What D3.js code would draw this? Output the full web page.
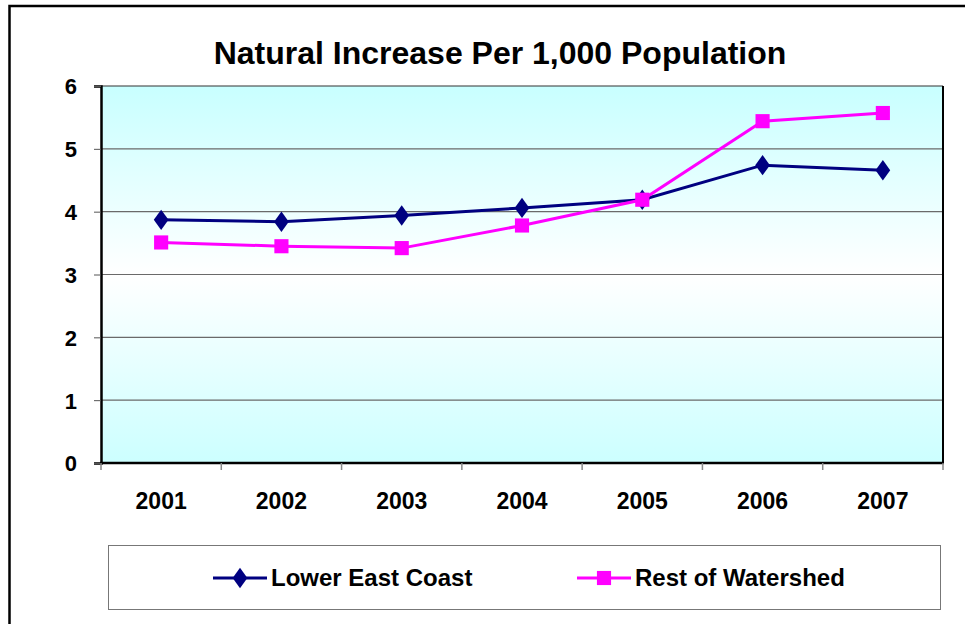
<!DOCTYPE html>
<html>
<head>
<meta charset="utf-8">
<script src="https://cdn.jsdelivr.net/npm/d3@7"></script>
<style>
  html, body { margin: 0; padding: 0; background: #fff; }
  svg { display: block; font-family: Arial, "Liberation Sans", sans-serif; }
</style>
</head>
<body>
<svg id="chart" width="965" height="624"></svg>
<script>
// Natural increase per 1,000 population, 2001-2007
const years = ["2001", "2002", "2003", "2004", "2005", "2006", "2007"];
const lowerEastCoast = [3.87, 3.84, 3.94, 4.06, 4.19, 4.74, 4.66];
const restOfWatershed = [3.51, 3.45, 3.42, 3.78, 4.19, 5.44, 5.57];
const yTicks = [0, 1, 2, 3, 4, 5, 6];
const seriesNames = ["Lower East Coast", "Rest of Watershed"];

const svg = d3.select("#chart");
const plot = { left: 101, right: 943, top: 86, bottom: 463 };

const x = d3.scaleBand().domain(years).range([plot.left, plot.right]).padding(0);
const y = d3.scaleLinear().domain([0, 6]).range([plot.bottom, plot.top]);

// Outer chart frame (top and left edges visible)
svg.append("rect")
  .attr("x", 9.5).attr("y", 6).attr("width", 1000).attr("height", 700)
  .attr("fill", "#fff").attr("stroke", "#000").attr("stroke-width", 2.5);

// Plot area background gradient: cyan - white - cyan
const defs = svg.append("defs");
const grad = defs.append("linearGradient").attr("id", "plotBg")
  .attr("x1", 0).attr("y1", 0).attr("x2", 0).attr("y2", 1);
grad.append("stop").attr("offset", "0%").attr("stop-color", "#c8ffff");
grad.append("stop").attr("offset", "50%").attr("stop-color", "#ffffff");
grad.append("stop").attr("offset", "100%").attr("stop-color", "#ccffff");

svg.append("rect")
  .attr("x", plot.left).attr("y", plot.top)
  .attr("width", plot.right - plot.left).attr("height", plot.bottom - plot.top)
  .attr("fill", "url(#plotBg)");

// Horizontal gridlines
svg.append("g").selectAll("line")
  .data(yTicks.filter(d => d > 0))
  .join("line")
  .attr("x1", plot.left).attr("x2", plot.right)
  .attr("y1", d => y(d)).attr("y2", d => y(d))
  .attr("stroke", d => d === 6 ? "#333" : "#6a6a6a").attr("stroke-width", 1.2);

// Right border of plot area
svg.append("line")
  .attr("x1", plot.right).attr("x2", plot.right)
  .attr("y1", plot.top).attr("y2", plot.bottom)
  .attr("stroke", "#000").attr("stroke-width", 2);

// Y axis
const yAxis = svg.append("g").attr("transform", `translate(${plot.left},0)`)
  .call(d3.axisLeft(y).tickValues(yTicks).tickSize(7).tickPadding(17).tickFormat(d3.format("d")));
yAxis.select(".domain").attr("stroke", "#000").attr("stroke-width", 2.5);
yAxis.selectAll(".tick line").attr("stroke", "#555").attr("stroke-width", 1);
yAxis.selectAll(".tick text")
  .attr("font-size", 22).attr("font-weight", "bold").attr("fill", "#000")
  .attr("dy", "0.36em");

// X axis: ticks sit on category boundaries
const xAxisG = svg.append("g");
xAxisG.append("line")
  .attr("x1", plot.left - 1).attr("x2", plot.right + 1)
  .attr("y1", plot.bottom).attr("y2", plot.bottom)
  .attr("stroke", "#000").attr("stroke-width", 2.5);
const boundaries = years.map(d => x(d)).concat([x(years[years.length - 1]) + x.bandwidth()]);
xAxisG.selectAll("line.tk").data(boundaries).join("line").attr("class", "tk")
  .attr("x1", d => d).attr("x2", d => d)
  .attr("y1", plot.bottom).attr("y2", plot.bottom + 7)
  .attr("stroke", "#888").attr("stroke-width", 1.5);
xAxisG.selectAll("text").data(years).join("text")
  .attr("x", d => x(d) + x.bandwidth() / 2)
  .attr("y", 509)
  .attr("text-anchor", "middle")
  .attr("font-size", 23).attr("font-weight", "bold").attr("fill", "#000")
  .text(d => d);

// Series
const cx = d => x(d) + x.bandwidth() / 2;
const line = d3.line().x(d => cx(d.year)).y(d => y(d.value));
const toPts = vals => years.map((yr, i) => ({ year: yr, value: vals[i] }));

const series = [
  { name: seriesNames[0], values: lowerEastCoast, color: "#000080", symbol: d3.symbolDiamond, size: 120 },
  { name: seriesNames[1], values: restOfWatershed, color: "#ff00ff", symbol: d3.symbolSquare, size: 200 }
];

series.forEach(s => {
  const pts = toPts(s.values);
  svg.append("path").datum(pts)
    .attr("fill", "none").attr("stroke", s.color).attr("stroke-width", 3)
    .attr("d", line);
  svg.append("g").selectAll("path").data(pts).join("path")
    .attr("transform", d => `translate(${cx(d.year)},${y(d.value)})` + (s.symbol === d3.symbolDiamond ? " scale(1.25,1)" : ""))
    .attr("d", d3.symbol().type(s.symbol).size(s.size))
    .attr("fill", s.color);
});

// Legend
svg.append("rect")
  .attr("x", 108.5).attr("y", 545.5).attr("width", 832).attr("height", 64)
  .attr("fill", "#fff").attr("stroke", "#777").attr("stroke-width", 1);

const legendItems = [
  { s: series[0], x0: 213 },
  { s: series[1], x0: 577 }
];
legendItems.forEach(item => {
  const g = svg.append("g");
  const ly = 578;
  g.append("line").attr("x1", item.x0).attr("x2", item.x0 + 54)
    .attr("y1", ly).attr("y2", ly)
    .attr("stroke", item.s.color).attr("stroke-width", 3);
  g.append("path")
    .attr("transform", `translate(${item.x0 + 27},${ly})` + (item.s.symbol === d3.symbolDiamond ? " scale(1.25,1)" : ""))
    .attr("d", d3.symbol().type(item.s.symbol).size(item.s.size))
    .attr("fill", item.s.color);
  g.append("text")
    .attr("x", item.x0 + 58).attr("y", ly + 8)
    .attr("font-size", 24).attr("font-weight", "bold").attr("fill", "#000")
    .text(item.s.name);
});

// Title
svg.append("text")
  .attr("x", 500).attr("y", 64)
  .attr("text-anchor", "middle")
  .attr("font-size", 32).attr("font-weight", "bold").attr("fill", "#000")
  .text("Natural Increase Per 1,000 Population");
</script>
</body>
</html>
